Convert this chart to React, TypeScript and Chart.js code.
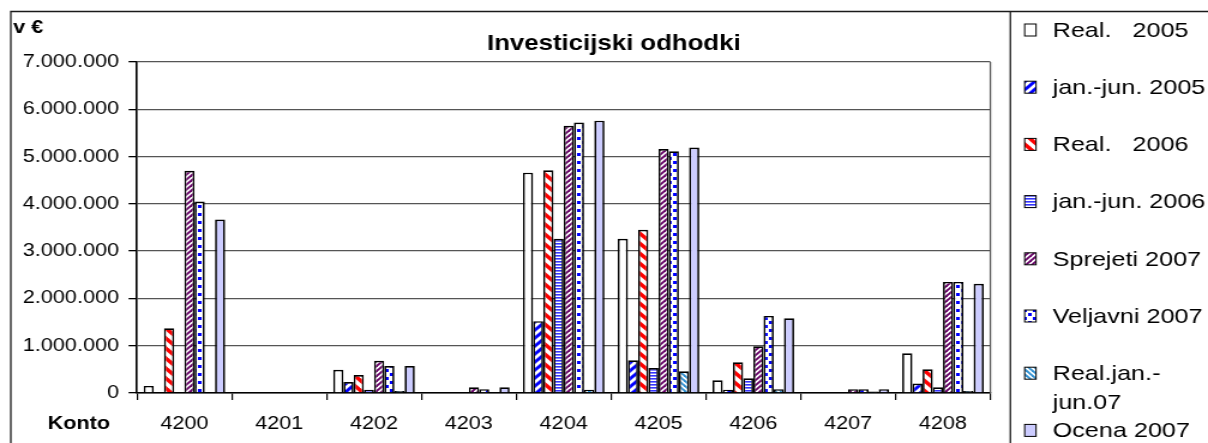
import { useEffect, useRef } from 'react';
import { Chart, registerables } from 'chart.js';

Chart.register(...registerables);

// ---------- data ----------
const chartTitle = 'Investicijski odhodki';
const yUnitLabel = 'v €';
const xAxisLabel = 'Konto';
const categories = ['4200', '4201', '4202', '4203', '4204', '4205', '4206', '4207', '4208'];
const seriesNames = [
  'Real.   2005',
  'jan.-jun. 2005',
  'Real.   2006',
  'jan.-jun. 2006',
  'Sprejeti 2007',
  'Veljavni 2007',
  'Real.jan.-jun.07',
  'Ocena 2007',
];
const real2005 = [150000, 0, 490000, 0, 4660000, 3260000, 270000, 0, 840000];
const janJun2005 = [0, 0, 230000, 0, 1520000, 690000, 70000, 0, 200000];
const real2006 = [1370000, 0, 380000, 0, 4710000, 3450000, 650000, 0, 500000];
const janJun2006 = [0, 0, 70000, 0, 3260000, 530000, 310000, 0, 120000];
const sprejeti2007 = [4700000, 0, 680000, 120000, 5650000, 5160000, 990000, 80000, 2350000];
const veljavni2007 = [4050000, 0, 570000, 80000, 5720000, 5110000, 1630000, 80000, 2350000];
const realJanJun07 = [0, 0, 40000, 0, 70000, 460000, 80000, 30000, 40000];
const ocena2007 = [3670000, 0, 570000, 120000, 5760000, 5190000, 1580000, 80000, 2310000];
const yMin = 0;
const yMax = 7000000;
const yStep = 1000000;

// ---------- layout (internal canvas units; canvas is stretched horizontally) ----------
const STRETCH = 1.2;
const DISPLAY_W = 1208;
const H = 443;
const W = Math.round(DISPLAY_W / STRETCH);
const PLOT_LEFT = 137 / STRETCH;
const PLOT_RIGHT = 990.7 / STRETCH;
const PLOT_TOP = 62;
const PLOT_BOTTOM = 393;
const FRAME_LEFT = 9;
const FRAME_TOP = 11.5;
const LEGEND_DIVIDER = 1010.7 / STRETCH;
const FONT = '"Liberation Sans", Arial, Helvetica, sans-serif';

function formatThousands(v: number): string {
  return String(Math.round(v)).replace(/\B(?=(\d{3})+(?!\d))/g, '.');
}

function tile(w: number, h: number, draw: (c: CanvasRenderingContext2D) => void): CanvasPattern | string {
  const cv = document.createElement('canvas');
  cv.width = w;
  cv.height = h;
  const c = cv.getContext('2d');
  if (!c) return '#fff';
  c.fillStyle = '#ffffff';
  c.fillRect(0, 0, w, h);
  draw(c);
  const ctx = document.createElement('canvas').getContext('2d');
  return (ctx && ctx.createPattern(cv, 'repeat')) || '#fff';
}

function diag(p: number, lw: number, color: string, forward: boolean) {
  return tile(p, p, (c) => {
    c.strokeStyle = color;
    c.lineWidth = lw;
    c.lineCap = 'square';
    for (const o of [-p, 0, p]) {
      c.beginPath();
      if (forward) {
        c.moveTo(o, p);
        c.lineTo(o + p, 0);
      } else {
        c.moveTo(o, 0);
        c.lineTo(o + p, p);
      }
      c.stroke();
    }
  });
}

function makeFills(): (CanvasPattern | string)[] {
  return [
    '#ffffff',
    diag(8, 3, '#0000ff', true),
    diag(10, 3.4, '#ff0000', false),
    tile(4, 3, (c) => {
      c.fillStyle = '#3333ff';
      c.fillRect(0, 0, 4, 1.6);
    }),
    diag(5, 1.9, '#660066', true),
    tile(8, 8, (c) => {
      c.fillStyle = '#0000ff';
      c.fillRect(1, 1, 3, 3);
      c.fillRect(5, 5, 3, 3);
    }),
    diag(5, 1.9, '#2f8fd0', false),
    '#ccccff',
  ];
}

const decorPlugin = {
  id: 'decor',
  beforeDraw(chart: any) {
    const ctx = chart.ctx as CanvasRenderingContext2D;
    ctx.save();
    ctx.fillStyle = '#ffffff';
    ctx.fillRect(0, 0, chart.width, chart.height);
    ctx.restore();
  },
  afterDraw(chart: any) {
    const ctx = chart.ctx as CanvasRenderingContext2D;
    const area = chart.chartArea;
    ctx.save();
    // frame
    ctx.strokeStyle = '#1a1a1a';
    ctx.lineWidth = 1.3;
    ctx.beginPath();
    ctx.moveTo(FRAME_LEFT, H + 2);
    ctx.lineTo(FRAME_LEFT, FRAME_TOP);
    ctx.lineTo(chart.width + 2, FRAME_TOP);
    ctx.moveTo(LEGEND_DIVIDER, FRAME_TOP);
    ctx.lineTo(LEGEND_DIVIDER, H + 2);
    ctx.stroke();
    // plot right border
    ctx.strokeStyle = '#555555';
    ctx.lineWidth = 1.3;
    ctx.beginPath();
    ctx.moveTo(area.right, area.top);
    ctx.lineTo(area.right, area.bottom);
    ctx.stroke();

    // texts
    ctx.fillStyle = '#000000';
    ctx.textBaseline = 'middle';
    ctx.textAlign = 'center';
    ctx.font = `bold 21.5px ${FONT}`;
    ctx.fillText(chartTitle, 511.7, 44);
    ctx.textAlign = 'left';
    ctx.font = `bold 18px ${FONT}`;
    ctx.fillText(yUnitLabel, 11, 28);
    ctx.textAlign = 'center';
    ctx.fillText(xAxisLabel, 65.8, 424);

    // legend
    const boxX = 1025 / STRETCH;
    const textX = 1053 / STRETCH;
    const maxW = chart.width - textX - 1;
    ctx.font = `21px ${FONT}`;
    ctx.textAlign = 'left';
    chart.data.datasets.forEach((ds: any, i: number) => {
      const y = 30 + i * 57.2;
      ctx.fillStyle = ds.backgroundColor;
      ctx.fillRect(boxX, y - 6, 9.5, 12);
      ctx.strokeStyle = '#000';
      ctx.lineWidth = 1;
      ctx.strokeRect(boxX, y - 6, 9.5, 12);
      ctx.fillStyle = '#000';
      const label: string = ds.label;
      const lines: string[] = [];
      if (ctx.measureText(label).width <= maxW) {
        lines.push(label);
      } else {
        let cut = -1;
        for (let k = 1; k < label.length; k++) {
          const ch = label[k - 1];
          if ((ch === '-' || ch === ' ') && ctx.measureText(label.slice(0, k)).width <= maxW) cut = k;
        }
        if (cut < 0) cut = label.length;
        lines.push(label.slice(0, cut).trimEnd());
        lines.push(label.slice(cut).trimStart());
      }
      lines.forEach((ln, j) => ctx.fillText(ln, textX, y + 1 + j * 29));
    });
    ctx.restore();
  },
};

export default function App() {
  const ref = useRef<HTMLCanvasElement | null>(null);

  useEffect(() => {
    if (!ref.current) return;
    const fills = makeFills();
    const series = [real2005, janJun2005, real2006, janJun2006, sprejeti2007, veljavni2007, realJanJun07, ocena2007];
    const chart = new Chart(ref.current, {
      type: 'bar',
      data: {
        labels: categories,
        datasets: series.map((d, i) => ({
          label: seriesNames[i],
          data: d,
          backgroundColor: fills[i] as any,
          borderColor: '#000000',
          borderWidth: 1.7,
          barPercentage: 1,
          categoryPercentage: 0.86,
        })),
      },
      options: {
        animation: false,
        responsive: false,
        devicePixelRatio: 1,
        events: [],
        layout: { padding: { left: 0, top: PLOT_TOP, right: W - PLOT_RIGHT, bottom: 0 } },
        plugins: {
          legend: { display: false },
          title: { display: false },
          tooltip: { enabled: false },
        },
        scales: {
          x: {
            grid: {
              display: true,
              drawOnChartArea: false,
              drawTicks: true,
              tickLength: 7,
              color: '#000000',
              lineWidth: 1.2,
            },
            border: { display: true, color: '#000000', width: 1.5 },
            ticks: {
              color: '#000000',
              font: { family: FONT, size: 18 },
              padding: 13,
              maxRotation: 0,
              autoSkip: false,
            },
            afterFit: (s: any) => {
              s.height = H - PLOT_BOTTOM;
            },
          },
          y: {
            min: yMin,
            max: yMax,
            ticks: {
              stepSize: yStep,
              color: '#000000',
              font: { family: FONT, size: 18 },
              padding: 8,
              callback: (v: any) => formatThousands(Number(v)),
            },
            grid: {
              color: '#555555',
              lineWidth: 1.3,
              tickLength: 7,
              tickColor: '#000000',
            },
            border: { display: true, color: '#000000', width: 1.6 },
            afterFit: (s: any) => {
              s.width = PLOT_LEFT;
            },
          },
        },
      },
      plugins: [decorPlugin],
    });
    return () => chart.destroy();
  }, []);

  return (
    <div style={{ position: 'fixed', left: 0, top: 0, width: DISPLAY_W, height: H, background: '#fff' }}>
      <canvas
        ref={ref}
        width={W}
        height={H}
        style={{ width: DISPLAY_W + 'px', height: H + 'px', display: 'block' }}
      />
    </div>
  );
}
